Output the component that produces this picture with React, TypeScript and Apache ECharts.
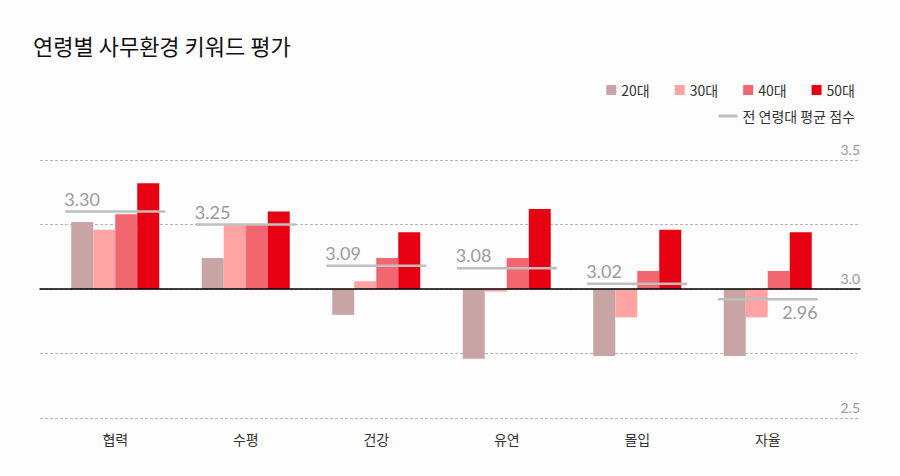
import React, { useEffect, useRef } from "react";
import * as echarts from "echarts";

const categories = ["협력", "수평", "건강", "유연", "몰입", "자율"];
const seriesNames = ["20대", "30대", "40대", "50대"];
const values20 = [3.26, 3.12, 2.9, 2.73, 2.74, 2.74];
const values30 = [3.23, 3.25, 3.03, 2.99, 2.89, 2.89];
const values40 = [3.29, 3.25, 3.12, 3.12, 3.07, 3.07];
const values50 = [3.41, 3.3, 3.22, 3.31, 3.23, 3.22];
const averageName = "전 연령대 평균 점수";
const averages = [3.3, 3.25, 3.09, 3.08, 3.02, 2.96];
const baseValue = 3.0;
const yTickLabels = ["2.5", "3.0", "3.5"];

const colors = ["#c8a4a4", "#ffa3a3", "#f26670", "#e60012"];
const CJK = '"Noto Sans CJK KR", "Noto Sans", sans-serif';
const NUM = 'Lato, "Noto Sans", sans-serif';

export default function App() {
  const ref = useRef<HTMLDivElement>(null);

  useEffect(() => {
    document.body.style.margin = "0";
    if (!ref.current) return;
    const chart = echarts.init(ref.current, undefined, { renderer: "svg" });
    const allValues = [values20, values30, values40, values50];

    const barSeries = allValues.map((vals, i) => ({
      name: seriesNames[i],
      type: "bar",
      xAxisIndex: 1,
      yAxisIndex: 1,
      barWidth: 22,
      barGap: "0%",
      itemStyle: { color: colors[i] },
      data: vals.map((v) => +(v - baseValue).toFixed(4)),
      z: 2,
    }));

    const option: any = {
      animation: false,
      backgroundColor: "#fdfdfd",
      textStyle: { fontFamily: CJK },
      title: {
        text: "연령별 사무환경 키워드 평가",
        left: 28,
        top: 29,
        textStyle: { fontSize: 22, fontWeight: "normal", color: "#111", fontFamily: CJK },
      },
      legend: [
        {
          data: seriesNames,
          right: 40,
          top: 78,
          itemWidth: 10,
          itemHeight: 10,
          itemGap: 25,
          icon: "rect",
          textStyle: { fontSize: 14, color: "#333", fontFamily: CJK },
        },
        {
          data: [{ name: averageName, icon: "rect" }],
          right: 40,
          top: 104,
          itemWidth: 19,
          itemHeight: 3,
          textStyle: { fontSize: 14, color: "#333", fontFamily: CJK },
        },
      ],
      grid: [
        { left: 40, right: 40, top: 160, bottom: 58 },
        { left: 50, right: 67, top: 160, bottom: 58 },
      ],
      xAxis: [
        {
          gridIndex: 0,
          type: "value",
          min: 0,
          max: 1,
          axisLine: { show: true, onZero: true, lineStyle: { color: "#000", width: 1.5 } },
          axisTick: { show: false },
          axisLabel: { show: false },
          splitLine: { show: false },
          z: 5,
        },
        {
          gridIndex: 1,
          type: "category",
          data: categories,
          axisLine: { show: false },
          axisTick: { show: false },
          axisLabel: { fontSize: 14, color: "#333", margin: 14, fontFamily: CJK },
        },
      ],
      yAxis: [
        {
          gridIndex: 0,
          type: "value",
          position: "right",
          min: -0.5,
          max: 0.5,
          interval: 0.25,
          axisLine: { show: false },
          axisTick: { show: false },
          axisLabel: {
            inside: true,
            margin: 0,
            verticalAlign: "bottom",
            padding: [0, 0, 4, 0],
            fontSize: 14,
            color: "#9a9a9a",
            fontFamily: NUM,
            formatter: (v: number) => {
              const idx = Math.round((v + 0.5) / 0.5);
              return Math.abs((v + 0.5) / 0.5 - idx) < 1e-6 ? yTickLabels[idx] : "";
            },
          },
          splitLine: { show: true, lineStyle: { color: "#b5b5b5", type: [3, 2], width: 1 } },
        },
        {
          gridIndex: 1,
          type: "value",
          min: -0.5,
          max: 0.5,
          interval: 0.25,
          show: false,
          splitLine: { show: false },
        },
      ],
      series: [
        ...barSeries,
        {
          name: averageName,
          type: "custom",
          xAxisIndex: 1,
          yAxisIndex: 1,
          itemStyle: { color: "#bfbfbf" },
          z: 10,
          data: averages.map((v, i) => [i, v]),
          renderItem: (params: any, api: any) => {
            const idx = api.value(0);
            const v = api.value(1);
            const pt = api.coord([idx, v - baseValue]);
            const half = 50;
            const below = v < baseValue;
            return {
              type: "group",
              children: [
                {
                  type: "line",
                  shape: { x1: pt[0] - half, y1: pt[1], x2: pt[0] + half, y2: pt[1] },
                  style: { stroke: "#bfbfbf", lineWidth: 2.5 },
                },
                {
                  type: "text",
                  x: below ? pt[0] + half : pt[0] - half - 1,
                  y: below ? pt[1] + 4 : pt[1] - 4,
                  style: {
                    text: v.toFixed(2),
                    fill: "#9a9a9a",
                    fontSize: 18,
                    fontFamily: NUM,
                    align: below ? "right" : "left",
                    verticalAlign: below ? "top" : "bottom",
                  },
                },
              ],
            };
          },
        },
      ],
    };

    chart.setOption(option);
    return () => chart.dispose();
  }, []);

  return <div ref={ref} style={{ width: 900, height: 476 }} />;
}
